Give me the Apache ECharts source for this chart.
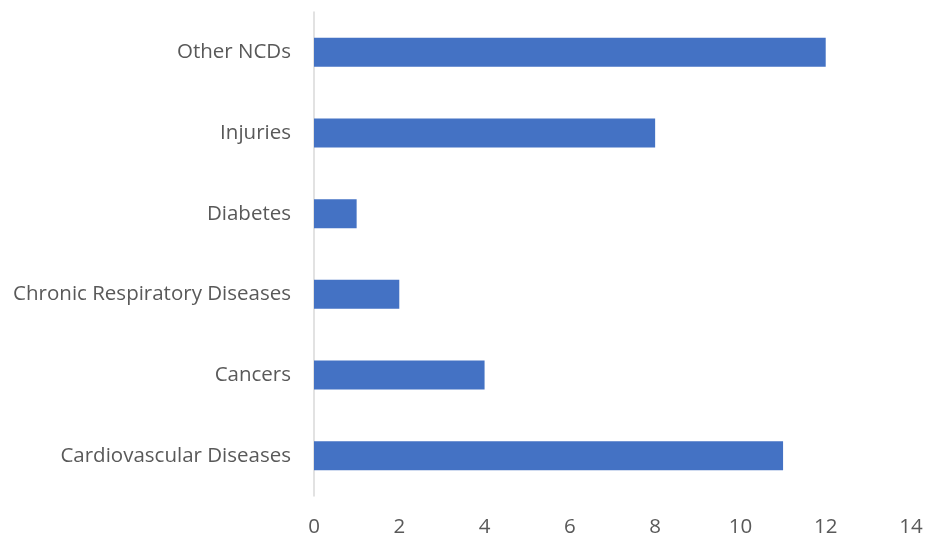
<!DOCTYPE html>
<html>
<head>
<meta charset="utf-8">
<script src="https://cdn.jsdelivr.net/npm/echarts@6/dist/echarts.min.js"></script>
<style>
  html, body { margin: 0; padding: 0; background: #ffffff; }
  #chart { width: 926px; height: 538px; }
</style>
</head>
<body>
<div id="chart"></div>
<script>
// Categories listed bottom to top
const categories = [
  'Cardiovascular Diseases',
  'Cancers',
  'Chronic Respiratory Diseases',
  'Diabetes',
  'Injuries',
  'Other NCDs'
];
const values = [11, 4, 2, 1, 8, 12];
const xTicks = [0, 2, 4, 6, 8, 10, 12, 14];

const labelFont = '"Open Sans", "Noto Sans", sans-serif';
const chart = echarts.init(document.getElementById('chart'));
chart.setOption({
  animation: false,
  grid: { left: 314, right: 15, top: 12, bottom: 42, containLabel: false },
  xAxis: {
    type: 'value',
    min: xTicks[0],
    max: xTicks[xTicks.length - 1],
    interval: 2,
    axisLine: { show: false },
    axisTick: { show: false },
    splitLine: { show: false },
    axisLabel: {
      color: '#595959',
      fontSize: 20.5,
      fontFamily: labelFont,
      margin: 21
    }
  },
  yAxis: {
    type: 'category',
    data: categories,
    axisLine: { show: true, lineStyle: { color: '#d9d9d9', width: 1.5 } },
    axisTick: { show: false },
    axisLabel: {
      color: '#595959',
      fontSize: 20.5,
      fontFamily: labelFont,
      margin: 23,
      padding: [5, 0, 0, 0]
    }
  },
  series: [{
    type: 'bar',
    data: values,
    barWidth: 29,
    itemStyle: { color: '#4472c4' }
  }]
});
</script>
</body>
</html>
